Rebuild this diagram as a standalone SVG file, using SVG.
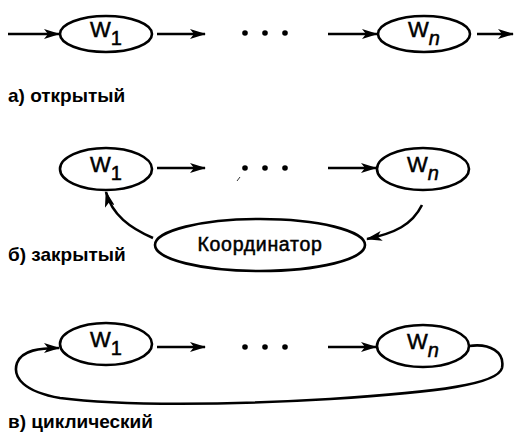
<svg xmlns="http://www.w3.org/2000/svg" width="515" height="436" viewBox="0 0 515 436">
<defs>
<marker id="ah" viewBox="0 0 16 10" refX="15" refY="5" markerWidth="16" markerHeight="10" markerUnits="userSpaceOnUse" orient="auto">
<path d="M0,0 L16,5 L0,10 L4,5 Z" fill="#000"/>
</marker>
</defs>
<style>
.n{fill:#fff;stroke:#000;stroke-width:2.6}
.t{font-family:"Liberation Sans",Arial,sans-serif;fill:#000}
.nt{stroke:#000;stroke-width:0.5}
.w{font-size:22px}
.s{font-size:20px}
.lab{font-size:19px;font-weight:bold}
.c{fill:none;stroke:#000;stroke-width:2.6;marker-end:url(#ah)}
.d{fill:#000}
</style>
<rect width="515" height="436" fill="#fff"/>
<g id="connectors">
<line class="c" x1="8" y1="34" x2="59" y2="34"/>
<line class="c" x1="157" y1="34" x2="205" y2="34"/>
<line class="c" x1="328" y1="34" x2="377" y2="34"/>
<line class="c" x1="477" y1="34" x2="513" y2="34"/>
<line class="c" x1="157" y1="168" x2="205" y2="168"/>
<line class="c" x1="328" y1="168" x2="376" y2="168"/>
<path class="c" d="M422,205 C412,225 395,233 367,239"/>
<path class="c" d="M153,238 C130,228 112,215 106,192"/>
<line class="c" x1="157" y1="347" x2="205" y2="347"/>
<line class="c" x1="328" y1="347" x2="376" y2="347"/>
<path class="c" d="M469,346 C490,343 505,352 502,368 C498,384 440,392 330,399 C230,405 120,406 60,398 C25,392 12,378 17,363 C22,350 40,348 59,348"/>
</g>
<g id="dots-a"><circle class="d" cx="245" cy="33" r="2.8"/><circle class="d" cx="265" cy="33" r="2.8"/><circle class="d" cx="285" cy="33" r="2.8"/></g>
<g id="dots-b"><circle class="d" cx="245" cy="168" r="2.8"/><circle class="d" cx="265" cy="168" r="2.8"/><circle class="d" cx="285" cy="168" r="2.8"/><line x1="237" y1="181" x2="240" y2="177" stroke="#000" stroke-width="0.8"/></g>
<g id="dots-c"><circle class="d" cx="245" cy="347" r="2.8"/><circle class="d" cx="265" cy="347" r="2.8"/><circle class="d" cx="285" cy="347" r="2.8"/></g>
<g id="a-w1"><ellipse class="n" cx="106" cy="34" rx="46" ry="18"/><text class="t nt" x="106" y="37" text-anchor="middle"><tspan class="w">W</tspan><tspan class="s" dy="8">1</tspan></text></g>
<g id="a-wn"><ellipse class="n" cx="424" cy="34" rx="46" ry="18"/><text class="t nt" x="424" y="37" text-anchor="middle"><tspan class="w">W</tspan><tspan class="s" dy="8" font-style="italic">n</tspan></text></g>
<g id="b-w1"><ellipse class="n" cx="106" cy="169" rx="46" ry="21"/><text class="t nt" x="106" y="172" text-anchor="middle"><tspan class="w">W</tspan><tspan class="s" dy="8">1</tspan></text></g>
<g id="b-wn"><ellipse class="n" cx="423" cy="169" rx="46" ry="21"/><text class="t nt" x="423" y="172" text-anchor="middle"><tspan class="w">W</tspan><tspan class="s" dy="8" font-style="italic">n</tspan></text></g>
<g id="b-coord"><ellipse class="n" cx="260" cy="245" rx="105" ry="26"/><text class="t nt" x="260" y="251" text-anchor="middle" font-size="19.5" letter-spacing="0.7">Координатор</text></g>
<g id="c-w1"><ellipse class="n" cx="106" cy="344" rx="46" ry="21"/><text class="t nt" x="106" y="347" text-anchor="middle"><tspan class="w">W</tspan><tspan class="s" dy="8">1</tspan></text></g>
<g id="c-wn"><ellipse class="n" cx="423" cy="346" rx="46" ry="21"/><text class="t nt" x="423" y="349" text-anchor="middle"><tspan class="w">W</tspan><tspan class="s" dy="8" font-style="italic">n</tspan></text></g>
<text class="t lab" x="8" y="102">а) открытый</text>
<text class="t lab" x="8" y="261">б) закрытый</text>
<text class="t lab" x="8" y="428">в) циклический</text>
</svg>
